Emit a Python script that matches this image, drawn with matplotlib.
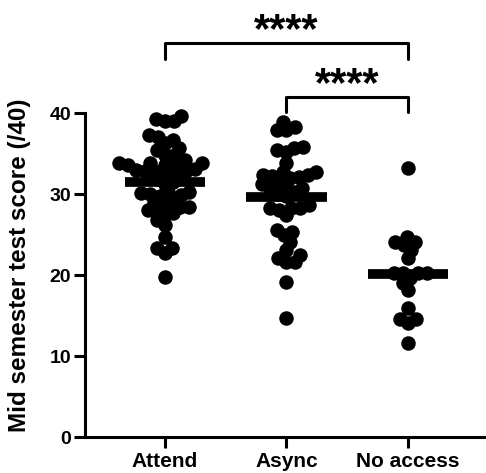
import numpy as np
import matplotlib.pyplot as plt

groups = ['Attend', 'Async', 'No access']

attend = [39.0, 39.3, 39.6, 39.0,
          37.3, 36.7, 37.0, 36.3,
          35.4, 34.8, 35.7, 34.8,
          33.8, 33.6, 33.6, 33.6, 33.8, 33.8, 34.2,
          32.8, 33.0, 32.6, 32.9, 32.5, 32.8, 33.1,
          31.5, 31.8, 32.0, 31.2,
          30.0, 30.2, 29.8, 30.1, 30.3, 29.9,
          29.3, 28.9, 28.4, 29.0,
          27.4, 28.0, 28.4, 28.0, 27.7,
          26.8, 26.2,
          24.7,
          23.3, 22.7, 23.3,
          19.8]

async_ = [38.9, 37.9, 37.9, 38.3,
          35.7, 35.4, 35.2, 35.8,
          33.8,
          32.2, 32.1, 32.0, 32.7, 32.3, 32.7, 32.3, 31.4,
          31.0, 30.8, 31.2,
          30.7, 30.2, 30.0, 29.8,
          28.6, 28.0, 28.3, 27.4, 28.3, 28.3,
          25.6, 24.1, 24.9, 25.3,
          22.1, 21.6, 21.6, 22.5, 23.1,
          19.1, 14.7]

no_access = [33.2,
             24.7, 23.7, 24.1, 23.1, 24.1,
             22.1,
             20.2, 20.2, 20.2, 19.6, 20.2, 19.0,
             18.1, 15.9,
             14.6, 14.1, 14.6,
             11.6]

yticks = [0, 10, 20, 30, 40]
# (group a, group b, label)
comparisons = [(0, 2, '****'), (1, 2, '****')]

plt.rcParams['font.family'] = ['Liberation Sans', 'DejaVu Sans']
plt.rcParams['font.weight'] = 'bold'


def swarm_offsets(values, ax, diam_px, overlap=0.6):
    """Sideways offsets (data units) so that markers only partly overlap."""
    trans = ax.transData
    vals = np.asarray(values, dtype=float)
    ys = trans.transform(np.column_stack([np.zeros(len(vals)), vals]))[:, 1]
    px_per_unit = trans.transform((1, 0))[0] - trans.transform((0, 0))[0]
    min_d2 = (diam_px * overlap) ** 2
    steps = np.arange(0, 80, 0.5)
    placed = []
    offsets = np.zeros(len(vals))
    for n, i in enumerate(np.argsort(vals)):
        sign = 1 if n % 2 else -1
        cands = [0.0]
        for s in steps[1:]:
            cands += [sign * s, -sign * s]
        for dx in cands:
            if all((dx - px) ** 2 + (ys[i] - py) ** 2 >= min_d2 for px, py in placed):
                break
        placed.append((dx, ys[i]))
        offsets[i] = dx / px_per_unit
    return offsets


fig = plt.figure(figsize=(4.86, 4.73), dpi=100)
ax = fig.add_axes([0.175, 0.076, 0.825, 0.685])
ax.set_xlim(-0.658, 2.642)
ax.set_ylim(0, 40)

diam = 14.5  # marker diameter in pixels
for i, vals in enumerate([attend, async_, no_access]):
    xs = i + swarm_offsets(vals, ax, diam)
    ax.scatter(xs, vals, s=(diam * 72 / 100) ** 2, color='black',
               linewidths=0, zorder=3, clip_on=False)
    m = np.mean(vals)
    ax.plot([i - 0.33, i + 0.33], [m, m], color='black', lw=7,
            solid_capstyle='butt', zorder=4)

# significance brackets
bracket_y = [48.6, 42.0]
for (a, b, label), yb in zip(comparisons, bracket_y):
    ax.plot([a, a, b, b], [yb - 1.9, yb, yb, yb - 1.9], color='black', lw=2.2,
            clip_on=False, solid_joinstyle='round', solid_capstyle='round')
    ax.text((a + b) / 2, yb + 0.1, label, ha='center', va='baseline',
            fontsize=30, fontweight='bold')

ax.set_xticks(range(len(groups)))
ax.set_xticklabels(groups, fontsize=15, fontweight='bold')
ax.set_yticks(yticks)
ax.set_yticklabels([str(t) for t in yticks], fontsize=14, fontweight='bold')
ax.set_ylabel('Mid semester test score (/40)', fontsize=17.5, fontweight='bold')
ax.yaxis.set_label_coords(-0.135, 0.53)

for side in ['top', 'right']:
    ax.spines[side].set_visible(False)
for side in ['left', 'bottom']:
    ax.spines[side].set_linewidth(2.2)
ax.tick_params(axis='both', length=8, width=2.2, direction='out')
ax.tick_params(axis='x', pad=3)
ax.tick_params(axis='y', pad=2)

fig.savefig('out.png', dpi=100)
